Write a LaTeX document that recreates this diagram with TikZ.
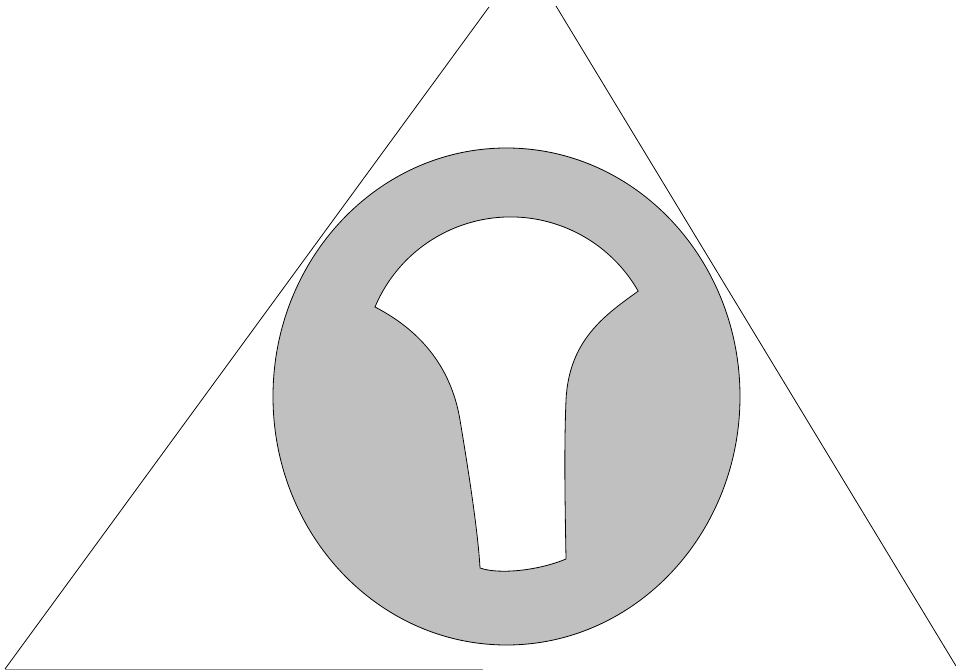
\documentclass[tikz,border=0pt]{standalone}
\begin{document}
\begin{tikzpicture}[x=1pt,y=-1pt,
  outline/.style={draw=black,line width=0.8pt},
  edge/.style={draw=black,line width=0.8pt},
  baseline edge/.style={draw=gray!90,line width=0.9pt}]
\useasboundingbox (0,0) rectangle (956,671);
% body
\fill[fill={rgb,255:red,192;green,192;blue,192},outline] (506.5,396.5) ellipse [x radius=233.5, y radius=248.5];
% keyhole opening
\coordinate (A) at (375,307);
\coordinate (C) at (638,291);
\filldraw[fill=white,outline,line join=miter]
  (A) arc[start angle=202.8, end angle=330.3, radius=147]
  .. controls (605,315) and (569,340) .. (566,400)
  .. controls (564,450) and (565,500) .. (566,559)
  .. controls (540,570) and (500,575) .. (480,568)
  .. controls (478,530) and (467,462) .. (460,420)
  .. controls (454,384) and (435,338) .. (A) -- cycle;
% triangle sides
\coordinate (BL) at (5,669);
\coordinate (TL) at (489,7);
\coordinate (TR) at (556,6);
\coordinate (BR) at (956,666);
\coordinate (BM) at (483,669);
\draw[edge] (BL) -- (TL);
\draw[edge] (TR) -- (BR);
\draw[baseline edge] (BL) -- (BM);
\end{tikzpicture}
\end{document}
